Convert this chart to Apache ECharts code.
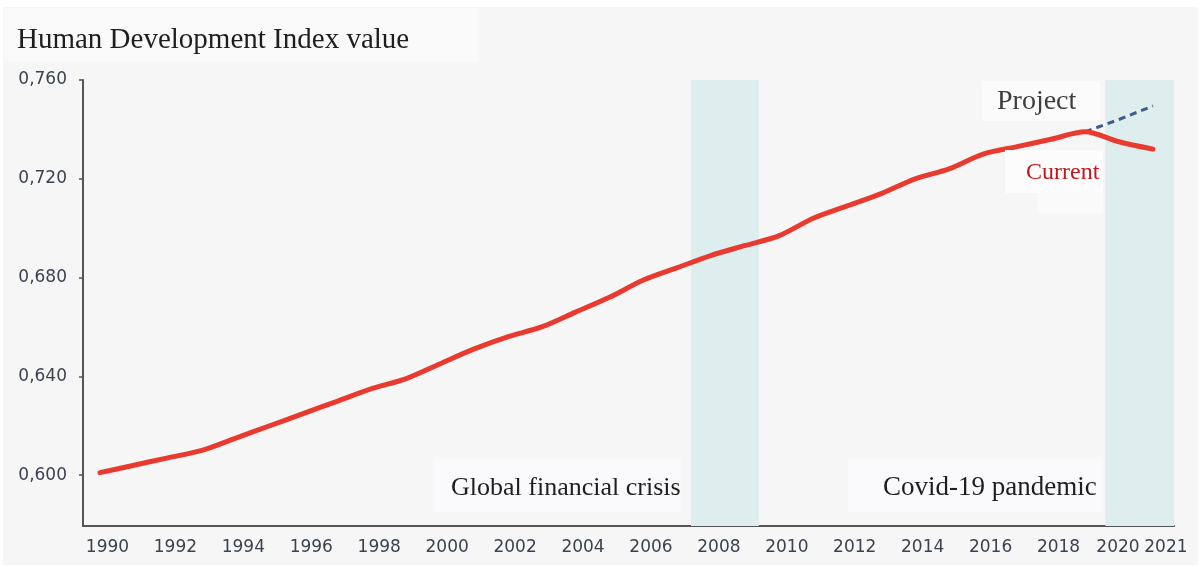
<!DOCTYPE html>
<html>
<head>
<meta charset="utf-8">
<title>Human Development Index value</title>
<script src="https://cdn.jsdelivr.net/npm/echarts@6/dist/echarts.min.js"></script>
<style>
  html, body { margin: 0; padding: 0; background: #ffffff; }
  #chart { width: 1201px; height: 567px; }
</style>
</head>
<body>
<div id="chart"></div>
<script>
// Global HDI, 1990-2021
const years = [1990, 1991, 1992, 1993, 1994, 1995, 1996, 1997, 1998, 1999,
               2000, 2001, 2002, 2003, 2004, 2005, 2006, 2007, 2008, 2009,
               2010, 2011, 2012, 2013, 2014, 2015, 2016, 2017, 2018, 2019,
               2020, 2021];
const hdiCurrent = [0.601, 0.604, 0.607, 0.610, 0.615, 0.620, 0.625, 0.630, 0.635, 0.639,
                    0.645, 0.651, 0.656, 0.660, 0.666, 0.672, 0.679, 0.684, 0.689, 0.693,
                    0.697, 0.704, 0.709, 0.714, 0.720, 0.724, 0.730, 0.733, 0.736, 0.739,
                    0.735, 0.732];

// Pre-pandemic trend continued from 2019
const projYears = [2019, 2020, 2021];
const hdiProjected = [0.739, 0.744, 0.7495];

// Crisis periods shaded behind the line
const crisisSpan = [2007.4, 2009.4];
const covidSpan = [2019.6, 2021.62];

// Axis labels
const xTickYears = [1990, 1992, 1994, 1996, 1998, 2000, 2002, 2004, 2006, 2008,
                    2010, 2012, 2014, 2016, 2018, 2020, 2021];
const yTicks = [0.600, 0.640, 0.680, 0.720, 0.760];

const labelColor = '#3b4250';
const tickFont = '"DejaVu Sans", sans-serif';
const tickSize = 17;
const serif = '"Liberation Serif", "DejaVu Serif", serif';

const chart = echarts.init(document.getElementById('chart'), null, { renderer: 'canvas' });

const richYear = (pad) => ({ padding: pad, color: labelColor, fontSize: tickSize, fontFamily: tickFont });

const option = {
  backgroundColor: '#ffffff',
  animation: false,
  grid: { left: 83, right: 27, top: 80, bottom: 41, containLabel: false },
  xAxis: {
    type: 'value',
    min: 1989.5,
    max: covidSpan[1],
    splitLine: { show: false },
    axisLine: { show: true, lineStyle: { color: '#555555', width: 2 } },
    axisTick: { show: false },
    axisLabel: {
      customValues: xTickYears,
      margin: 13,
      color: labelColor,
      fontFamily: tickFont,
      fontSize: tickSize,
      formatter: function (v) {
        if (v === 2021) return '{c|2021}';
        if (v === 2020) return '{b|2020}';
        return '{a|' + v + '}';
      },
      rich: {
        a: richYear([0, 0, 0, 15]),
        b: richYear([0, 2, 0, 0]),
        c: richYear([0, 0, 0, 26])
      }
    }
  },
  yAxis: {
    type: 'value',
    min: 0.5794,
    max: 0.760,
    splitLine: { show: false },
    axisLine: { show: true, lineStyle: { color: '#555555', width: 2 } },
    axisTick: { show: true, customValues: yTicks, length: 4, lineStyle: { color: '#555555', width: 1.5 } },
    axisLabel: {
      customValues: yTicks,
      margin: 16,
      color: labelColor,
      fontFamily: tickFont,
      fontSize: tickSize,
      formatter: function (v) { return v.toFixed(3).replace('.', ','); }
    }
  },
  series: [
    {
      name: 'Current',
      type: 'line',
      data: years.map((y, i) => [y, hdiCurrent[i]]),
      smooth: 0.3,
      symbol: 'none',
      z: 4,
      lineStyle: { color: '#e93a30', width: 5, cap: 'round', join: 'round' },
      markArea: {
        silent: true,
        itemStyle: { color: '#deeeee' },
        data: [
          [{ xAxis: crisisSpan[0] }, { xAxis: crisisSpan[1] }],
          [{ xAxis: covidSpan[0] }, { xAxis: covidSpan[1] }]
        ]
      }
    },
    {
      name: 'Project',
      type: 'line',
      data: projYears.map((y, i) => [y, hdiProjected[i]]),
      symbol: 'none',
      z: 3,
      lineStyle: { color: '#3d5b8e', width: 3, type: [7, 5] }
    }
  ],
  graphic: [
    // light panel behind the whole figure
    { type: 'rect', z: -10, silent: true,
      shape: { x: 3, y: 7, width: 1195, height: 558 },
      style: { fill: '#f6f6f6' } },
    // heading
    { type: 'rect', z: -5, silent: true,
      shape: { x: 5, y: 8, width: 474, height: 54 },
      style: { fill: '#f9f9fa' } },
    { type: 'text', z: 20, silent: true, x: 17, y: 40,
      style: { text: 'Human Development Index value', font: '29px ' + serif, fill: '#1e1e1e', verticalAlign: 'middle' } },
    // "Project" tag
    { type: 'rect', z: 10, silent: true,
      shape: { x: 982, y: 81, width: 118, height: 40 },
      style: { fill: '#fbfbfb' } },
    { type: 'text', z: 20, silent: true, x: 997, y: 102,
      style: { text: 'Project', font: '28px ' + serif, fill: '#3e3e3e', verticalAlign: 'middle' } },
    // "Current" tag
    { type: 'rect', z: 10, silent: true,
      shape: { x: 1005, y: 150, width: 98, height: 43 },
      style: { fill: '#fcfcfc' } },
    { type: 'rect', z: 10, silent: true,
      shape: { x: 1038, y: 193, width: 65, height: 20 },
      style: { fill: '#fafafa' } },
    { type: 'text', z: 20, silent: true, x: 1026, y: 173,
      style: { text: 'Current', font: '24px ' + serif, fill: '#c5161d', verticalAlign: 'middle' } },
    // period captions
    { type: 'rect', z: 10, silent: true,
      shape: { x: 433, y: 459, width: 248, height: 53 },
      style: { fill: '#f9f9fb' } },
    { type: 'text', z: 20, silent: true, x: 451, y: 488,
      style: { text: 'Global financial crisis', font: '26px ' + serif, fill: '#1e1e1e', verticalAlign: 'middle' } },
    { type: 'rect', z: 10, silent: true,
      shape: { x: 848, y: 459, width: 255, height: 53 },
      style: { fill: '#f9f9fb' } },
    { type: 'text', z: 20, silent: true, x: 883, y: 488,
      style: { text: 'Covid-19 pandemic', font: '27px ' + serif, fill: '#1e1e1e', verticalAlign: 'middle' } }
  ]
};

chart.setOption(option);
</script>
</body>
</html>
